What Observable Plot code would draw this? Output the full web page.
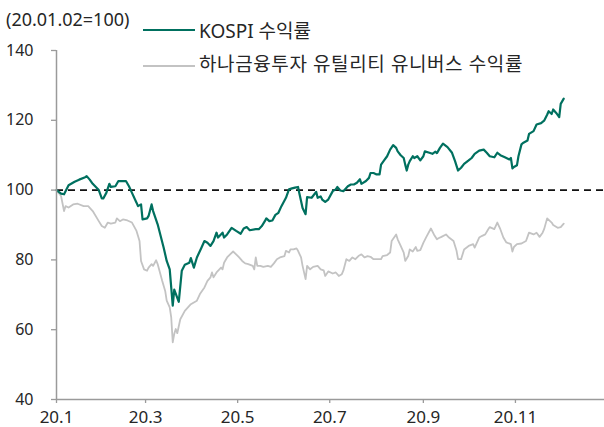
<!DOCTYPE html>
<html><head><meta charset="utf-8">
<script src="https://cdn.jsdelivr.net/npm/d3@7"></script>
<script src="https://cdn.jsdelivr.net/npm/@observablehq/plot@0.6"></script>
<style>
body{margin:0;background:#fff;}
#wrap{position:relative;width:604px;height:427px;font-family:"Noto Sans","Noto Sans CJK KR",sans-serif;color:#262626;}
.lbl{position:absolute;white-space:nowrap;line-height:1;}
.sw{position:absolute;height:2px;width:52px;left:143px;}
#wrap svg{position:absolute;left:0;top:0;}
</style></head><body>
<div id="wrap"></div>
<script>
const titleText = "(20.01.02=100)";
const seriesNames = ["KOSPI 수익률", "하나금융투자 유틸리티 유니버스 수익률"];
const seriesColors = ["#00705F", "#C3C3C3"];
const xTickDates = ["2020-01-02","2020-03-01","2020-05-01","2020-07-01","2020-09-01","2020-11-01"];
const xTickLabels = ["20.1","20.3","20.5","20.7","20.9","20.11"];
const yTicks = [40,60,80,100,120,140];
const baseline = 100;

const kospiDates = ["2020-01-02","2020-01-05","2020-01-07","2020-01-10","2020-01-14","2020-01-17","2020-01-21","2020-01-22","2020-01-24","2020-01-26","2020-01-30","2020-02-01","2020-02-02","2020-02-04","2020-02-06","2020-02-07","2020-02-10","2020-02-12","2020-02-17","2020-02-19","2020-02-21","2020-02-24","2020-02-25","2020-02-27","2020-02-28","2020-03-02","2020-03-03","2020-03-05","2020-03-06","2020-03-09","2020-03-13","2020-03-15","2020-03-17","2020-03-19","2020-03-20","2020-03-23","2020-03-25","2020-03-27","2020-03-30","2020-03-31","2020-04-02","2020-04-04","2020-04-07","2020-04-09","2020-04-11","2020-04-13","2020-04-15","2020-04-17","2020-04-18","2020-04-21","2020-04-22","2020-04-24","2020-04-27","2020-04-30","2020-05-03","2020-05-05","2020-05-07","2020-05-09","2020-05-13","2020-05-15","2020-05-17","2020-05-19","2020-05-20","2020-05-22","2020-05-24","2020-05-26","2020-05-28","2020-05-30","2020-06-02","2020-06-04","2020-06-06","2020-06-08","2020-06-10","2020-06-11","2020-06-13","2020-06-15","2020-06-16","2020-06-19","2020-06-22","2020-06-23","2020-06-25","2020-06-26","2020-06-28","2020-06-30","2020-07-03","2020-07-05","2020-07-06","2020-07-08","2020-07-10","2020-07-13","2020-07-15","2020-07-17","2020-07-19","2020-07-21","2020-07-22","2020-07-25","2020-07-27","2020-07-28","2020-07-30","2020-08-01","2020-08-03","2020-08-04","2020-08-06","2020-08-08","2020-08-10","2020-08-12","2020-08-14","2020-08-15","2020-08-17","2020-08-19","2020-08-20","2020-08-21","2020-08-22","2020-08-23","2020-08-25","2020-08-26","2020-08-28","2020-08-30","2020-09-01","2020-09-02","2020-09-05","2020-09-07","2020-09-09","2020-09-10","2020-09-12","2020-09-14","2020-09-17","2020-09-20","2020-09-22","2020-09-24","2020-09-26","2020-09-28","2020-10-01","2020-10-03","2020-10-05","2020-10-08","2020-10-11","2020-10-13","2020-10-15","2020-10-18","2020-10-20","2020-10-22","2020-10-25","2020-10-28","2020-10-29","2020-10-30","2020-10-31","2020-11-02","2020-11-03","2020-11-05","2020-11-06","2020-11-09","2020-11-10","2020-11-13","2020-11-15","2020-11-18","2020-11-20","2020-11-22","2020-11-23","2020-11-25","2020-11-26","2020-11-28","2020-11-30","2020-12-01","2020-12-03"];
const kospiValues = [100,99.0,98.8,101.4,102.4,103.0,103.7,104.0,103.0,101.8,100.0,97.6,97.6,99.2,101.8,100.9,101.1,102.6,102.6,101.1,99.2,96.4,95.4,95.9,91.6,91.9,92.6,95.9,94.0,90.2,83.5,79.7,77.3,66.9,71.5,68.0,76.9,78.6,79.2,80.5,77.8,80.7,83.5,85.4,84.9,84.0,85.4,87.8,86.4,87.8,86.4,87.3,89.2,88.3,87.5,89.0,89.4,88.5,88.8,88.8,89.7,91.1,91.9,91.1,91.3,92.9,93.5,95.4,97.8,100.2,100.5,100.7,100.9,98.8,94.9,93.1,98.0,97.8,99.5,97.8,98.2,97.3,96.6,97.3,99.7,100.2,100.9,99.9,99.7,101.1,101.6,101.6,102.1,103.1,101.8,102.6,103.5,104.9,104.9,104.5,104.5,107.3,108.5,109.7,111.6,112.9,112.1,111.1,110.0,109.2,107.3,105.6,107.3,108.3,109.7,109.2,109.7,108.5,109.7,111.1,110.7,110.4,111.0,110.6,112.1,113.3,112.3,110.7,108.3,105.6,106.4,107.5,108.5,109.2,110.4,111.3,111.6,110.7,109.7,109.4,110.7,110.0,109.4,108.8,109.2,106.2,106.6,107.1,109.7,113.1,113.5,114.2,116.1,116.9,118.8,119.2,119.9,121.6,122.6,121.8,123.1,122.1,120.9,124.7,126.2];

const utilDates = ["2020-01-02","2020-01-05","2020-01-07","2020-01-08","2020-01-10","2020-01-13","2020-01-16","2020-01-20","2020-01-23","2020-01-26","2020-01-30","2020-02-01","2020-02-03","2020-02-05","2020-02-07","2020-02-10","2020-02-11","2020-02-13","2020-02-15","2020-02-18","2020-02-21","2020-02-24","2020-02-26","2020-02-27","2020-02-29","2020-03-02","2020-03-03","2020-03-05","2020-03-06","2020-03-08","2020-03-09","2020-03-12","2020-03-14","2020-03-15","2020-03-17","2020-03-18","2020-03-19","2020-03-20","2020-03-21","2020-03-22","2020-03-24","2020-03-27","2020-03-31","2020-04-04","2020-04-06","2020-04-09","2020-04-11","2020-04-13","2020-04-14","2020-04-15","2020-04-17","2020-04-20","2020-04-21","2020-04-22","2020-04-24","2020-04-26","2020-04-28","2020-04-30","2020-05-02","2020-05-04","2020-05-06","2020-05-08","2020-05-11","2020-05-12","2020-05-13","2020-05-14","2020-05-16","2020-05-18","2020-05-21","2020-05-23","2020-05-25","2020-05-27","2020-05-29","2020-06-01","2020-06-02","2020-06-04","2020-06-05","2020-06-07","2020-06-09","2020-06-10","2020-06-12","2020-06-13","2020-06-15","2020-06-16","2020-06-18","2020-06-20","2020-06-23","2020-06-25","2020-06-27","2020-06-28","2020-06-30","2020-07-03","2020-07-05","2020-07-07","2020-07-09","2020-07-10","2020-07-12","2020-07-14","2020-07-16","2020-07-18","2020-07-20","2020-07-22","2020-07-24","2020-07-26","2020-07-28","2020-07-30","2020-08-01","2020-08-04","2020-08-05","2020-08-08","2020-08-10","2020-08-11","2020-08-14","2020-08-15","2020-08-17","2020-08-19","2020-08-20","2020-08-22","2020-08-23","2020-08-25","2020-08-27","2020-08-28","2020-08-30","2020-09-01","2020-09-03","2020-09-06","2020-09-08","2020-09-10","2020-09-11","2020-09-13","2020-09-16","2020-09-18","2020-09-21","2020-09-23","2020-09-24","2020-09-26","2020-09-28","2020-10-01","2020-10-04","2020-10-05","2020-10-08","2020-10-10","2020-10-12","2020-10-14","2020-10-15","2020-10-18","2020-10-20","2020-10-22","2020-10-24","2020-10-26","2020-10-29","2020-10-30","2020-10-31","2020-11-02","2020-11-05","2020-11-08","2020-11-10","2020-11-13","2020-11-15","2020-11-17","2020-11-19","2020-11-20","2020-11-22","2020-11-25","2020-11-26","2020-11-29","2020-12-01","2020-12-03"];
const utilValues = [100,98.3,94.0,95.4,95.0,95.9,96.1,95.4,95.4,94.0,91.1,89.7,89.2,90.7,90.4,90.7,91.9,91.1,91.6,91.3,90.7,88.3,85.4,79.7,77.3,76.9,77.8,78.8,78.3,79.9,78.8,74.0,71.1,68.3,66.4,63.5,56.4,58.8,60.2,59.0,63.0,65.4,67.3,68.3,70.2,72.1,74.0,75.0,76.4,75.0,76.4,77.8,77.3,79.2,80.7,81.6,82.4,81.6,80.7,79.7,79.0,78.8,78.3,77.3,80.7,78.3,78.3,78.0,78.3,78.0,79.0,80.2,80.7,81.1,82.6,82.1,83.0,83.0,83.3,82.6,80.7,78.3,74.5,78.3,77.3,78.0,78.3,77.3,77.0,75.4,76.7,76.1,76.4,75.4,75.9,76.9,80.2,79.7,80.7,80.2,81.1,81.6,80.7,81.1,80.9,80.2,80.2,80.2,81.1,81.4,82.1,85.4,87.3,85.9,84.0,82.1,79.7,81.1,83.0,82.4,83.7,82.6,82.8,84.9,86.6,89.0,87.3,85.9,86.2,86.6,87.3,86.4,85.4,82.6,80.2,80.2,83.0,84.0,84.5,83.5,86.4,86.9,87.3,88.8,89.4,88.8,90.7,88.8,86.4,85.0,84.5,82.4,83.7,84.5,84.7,85.4,87.8,87.3,87.8,86.6,87.8,88.8,91.9,90.7,90.0,89.2,89.4,90.4];

const parse = d3.utcParse("%Y-%m-%d");
const kospi = kospiDates.map((d, i) => ({date: parse(d), value: kospiValues[i]}));
const util = utilDates.map((d, i) => ({date: parse(d), value: utilValues[i]}));
const tickDates = xTickDates.map(parse);
const labelMap = new Map(tickDates.map((d, i) => [+d, xTickLabels[i]]));
const x0 = parse("2020-01-02"), x1 = parse("2020-12-30");
const axisColor = "#9a9a9a";
const textColor = "#262626";

const chart = Plot.plot({
  width: 604, height: 427,
  marginLeft: 56, marginRight: 0, marginTop: 50, marginBottom: 28,
  style: {fontFamily: '"Noto Sans","Noto Sans CJK KR",sans-serif', fontSize: "16px", color: textColor, background: "transparent", overflow: "visible"},
  x: {type: "utc", domain: [x0, x1], label: null},
  y: {domain: [40, 140], label: null},
  marks: [
    Plot.ruleY([baseline], {stroke: "#111", strokeWidth: 1.8, strokeDasharray: "7,5"}),
    Plot.line(util, {x: "date", y: "value", stroke: seriesColors[1], strokeWidth: 1.8}),
    Plot.line(kospi, {x: "date", y: "value", stroke: seriesColors[0], strokeWidth: 2.2}),
    Plot.ruleX([x0], {stroke: axisColor, strokeWidth: 1.5}),
    Plot.ruleY([40], {stroke: axisColor, strokeWidth: 1.5}),
    Plot.axisY({ticks: yTicks, label: null, tickSize: 5, tickPadding: 18, stroke: axisColor, strokeWidth: 1.3, fill: textColor, fontSize: 16}),
    Plot.axisX({ticks: tickDates, label: null, tickFormat: d => labelMap.get(+d), tickSize: 4, tickPadding: 7, stroke: axisColor, strokeWidth: 1.3, fill: textColor, fontSize: 17})
  ]
});

const wrap = document.getElementById("wrap");
wrap.appendChild(chart);

function addLabel(text, left, top, size, spacing) {
  const el = document.createElement("div");
  el.className = "lbl";
  el.textContent = text;
  el.style.left = left + "px";
  el.style.top = top + "px";
  el.style.fontSize = size + "px";
  if (spacing) el.style.letterSpacing = spacing + "px";
  wrap.appendChild(el);
}
function addSwatch(color, top) {
  const el = document.createElement("div");
  el.className = "sw";
  el.style.background = color;
  el.style.top = top + "px";
  wrap.appendChild(el);
}
addLabel(titleText, 6, 10, 18, 0);
addSwatch(seriesColors[0], 29);
addLabel(seriesNames[0], 199, 22, 19, 0);
addSwatch(seriesColors[1], 65);
addLabel(seriesNames[1], 199, 55, 19, 0.6);
</script>
</body></html>
